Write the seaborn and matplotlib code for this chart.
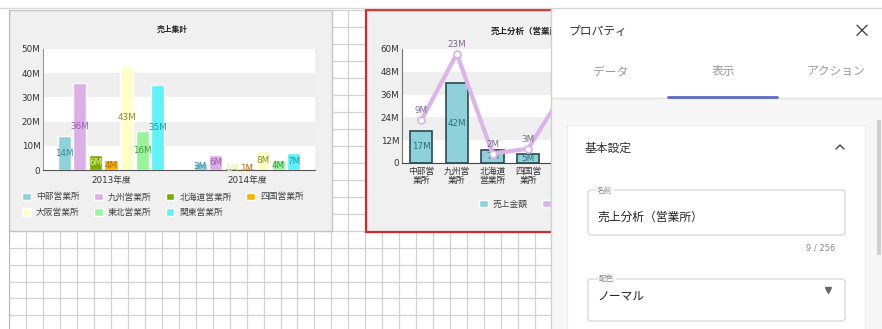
import matplotlib
matplotlib.use("Agg")
import matplotlib.pyplot as plt
import seaborn as sns
import pandas as pd
import numpy as np
from matplotlib.patches import Rectangle, FancyBboxPatch

# left chart: 売上集計
years = ["2013年度", "2014年度"]
offices = ["中部営業所", "九州営業所", "北海道営業所", "四国営業所",
           "大阪営業所", "東北営業所", "関東営業所"]
sales_2013 = [14, 36, 6, 4, 43, 16, 35]
sales_2014 = [3, 6, 1, 1, 8, 4, 7]
office_colors = ["#8ed1da", "#dcb0e6", "#7aae00", "#f8b500",
                 "#ffffc8", "#98f59a", "#5ff2f8"]
label_colors = ["#3f8c96", "#9a5ab0", "#e4f09a", "#b06e00",
                "#8c8c3c", "#3d9a45", "#1f9aa6"]

# middle chart: 売上分析（営業所）
branch_ticks = ["中部営\n業所", "九州営\n業所", "北海道\n営業所", "四国営\n業所", "大阪営\n業所"]
branch_sales = [17, 42, 7, 5, 51]
branch_profit = [9, 23, 2, 3, 15]
sales_color = "#8ed1da"
profit_color = "#dcb4e8"

W, H = 882, 329
FS = 6.3

sns.set_style("white")
plt.rcParams["font.family"] = ["DejaVu Sans", "Noto Sans CJK JP"]


def rect(x, y, w, h):
    # pixel box (top-left origin) -> figure fraction
    return [x / W, 1 - (y + h) / H, w / W, h / H]


def bands(ax, top, step):
    for i, lo in enumerate(np.arange(0, top, step)):
        if i % 2 == 1:
            ax.axhspan(lo, lo + step, color="#efefef", zorder=0, lw=0)


fig = plt.figure(figsize=(W / 100, H / 100), dpi=100)

# ---- background grid + panels ----
bg = fig.add_axes(rect(9, 10, 544, 319))
bg.set_zorder(0)
bg.set_xlim(9, 553)
bg.set_ylim(329, 10)
bg.set_xticks(np.arange(9, 553, 16.97))
bg.set_yticks(np.arange(10, 329, 16.97))
bg.tick_params(length=0, labelbottom=False, labelleft=False)
bg.set_axisbelow(True)
bg.grid(True, color="#d2d2d2", lw=0.9)
for s in ["top", "right", "bottom"]:
    bg.spines[s].set_visible(False)
bg.spines["left"].set_color("#b8b8b8")
bg.add_patch(Rectangle((9, 10), 323, 221, fc="#f0f0f0", ec="#c4c4c4", lw=1, zorder=1))
bg.add_patch(Rectangle((366, 10), 240, 222, fc="#f0f0f0", ec="#d42a2a", lw=1.6,
                       zorder=1, clip_on=False))

# ---- left chart ----
ax1 = fig.add_axes(rect(43, 49, 272, 121))
ax1.set_zorder(2)
df = pd.DataFrame({
    "year": np.repeat(years, len(offices)),
    "office": offices * 2,
    "sales": sales_2013 + sales_2014,
})
sns.barplot(data=df, x="year", y="sales", hue="office", hue_order=offices,
            palette=office_colors, saturation=1, width=0.8, gap=0.16,
            errorbar=None, legend=False, ax=ax1)
bands(ax1, 50, 10)
ax1.set_ylim(0, 50)
ax1.set_yticks(range(0, 51, 10))
ax1.set_yticklabels(["0"] + [f"{v}M" for v in range(10, 51, 10)])
ax1.set_xlabel("")
ax1.set_ylabel("")
ax1.tick_params(labelsize=FS, colors="#333333", length=0, pad=2)
ax1.tick_params(axis="x", pad=4)
for s in ["top", "right"]:
    ax1.spines[s].set_visible(False)
ax1.spines["left"].set_color("#999999")
ax1.spines["bottom"].set_color("#555555")
for c, col in zip(ax1.containers, label_colors):
    ax1.bar_label(c, labels=[f"{v:g}M" for v in c.datavalues], label_type="center",
                  fontsize=FS, color=col)
fig.text(172 / W, 1 - 29 / H, "売上集計", fontsize=5.6, fontweight="bold",
         color="#222222", va="center", ha="center", zorder=3)

handles = [Rectangle((0, 0), 1, 1, fc=c) for c in office_colors]
order = [0, 4, 1, 5, 2, 6, 3]
fig.legend([handles[i] for i in order], [offices[i] for i in order],
           loc="upper left", bbox_to_anchor=(22 / W, 1 - 192.5 / H), ncol=4,
           frameon=False, fontsize=FS, handlelength=1.0, handleheight=1.0,
           handletextpad=0.6, columnspacing=1.6, labelspacing=0.75,
           borderpad=0, borderaxespad=0, labelcolor="#444444")

# ---- middle chart ----
ax2 = fig.add_axes(rect(402, 49, 181, 114))
ax2.set_zorder(2)
sns.barplot(x=branch_ticks, y=branch_sales, color=sales_color, saturation=1,
            width=0.62, edgecolor="#2d4a4f", linewidth=1.2, errorbar=None, ax=ax2)
bands(ax2, 60, 12)
ax2.set_ylim(0, 60)
ax2.set_yticks(range(0, 61, 12))
ax2.set_yticklabels(["0"] + [f"{v}M" for v in range(12, 61, 12)])
ax2.tick_params(labelsize=FS, colors="#333333", length=0, pad=2)
ax2.tick_params(axis="x", pad=3)
for lbl in ax2.get_xticklabels():
    lbl.set_linespacing(1.0)
for s in ["top", "right"]:
    ax2.spines[s].set_visible(False)
ax2.spines["left"].set_color("#777777")
ax2.spines["bottom"].set_color("#444444")
ax2.bar_label(ax2.containers[0], labels=[f"{v}M" for v in branch_sales],
              label_type="center", fontsize=FS, color="#2d6f78")

ax2b = ax2.twinx()
sns.lineplot(x=np.arange(len(branch_profit)), y=branch_profit, ax=ax2b,
             color=profit_color, lw=3, marker="o", markersize=5,
             markerfacecolor="white", markeredgecolor=profit_color, markeredgewidth=1.3)
ax2b.set_ylim(0, 24)
ax2b.set_yticks([])
ax2b.set_ylabel("")
for s in ax2b.spines.values():
    s.set_visible(False)
for i, v in enumerate(branch_profit):
    ax2b.annotate(f"{v}M", (i, v), xytext=(0, 3.5), textcoords="offset points",
                  ha="center", va="bottom", fontsize=FS, color="#806890")

fig.text(491 / W, 1 - 31 / H, "売上分析（営業所）", fontsize=6.1, fontweight="bold",
         color="#222222", va="center", ha="left", zorder=3)

mid_handles = [Rectangle((0, 0), 1, 1, fc=sales_color), Rectangle((0, 0), 1, 1, fc=profit_color)]
fig.legend(mid_handles, ["売上金額", "粗利"], loc="upper left",
           bbox_to_anchor=(479 / W, 1 - 199.5 / H), ncol=2, frameon=False, fontsize=FS,
           handlelength=1.0, handleheight=1.0, handletextpad=0.6, columnspacing=1.6,
           borderpad=0, borderaxespad=0, labelcolor="#444444")

# ---- property panel ----
pn = fig.add_axes([0, 0, 1, 1])
pn.set_zorder(10)
pn.set_xlim(0, W)
pn.set_ylim(H, 0)
pn.axis("off")
pn.patch.set_alpha(0)
pn.plot([0, W], [8, 8], color="#d8d8d8", lw=1)
pn.add_patch(Rectangle((550.5, 8), 332, 321, fc="white", ec="none"))
pn.plot([551, 551], [8, H], color="#d0d0d0", lw=1)
pn.add_patch(Rectangle((551.5, 99), 331, 230, fc="#f7f7f7", ec="none"))
pn.plot([551.5, W], [98, 98], color="#e2e2e2", lw=1)
pn.plot([668, 777], [97, 97], color="#5c6bc0", lw=2)
pn.add_patch(Rectangle((567, 125), 298, 210, fc="white", ec="#ececec", lw=0.8))
pn.add_patch(Rectangle((877, 120), 4, 135, fc="#cfcfcf", ec="none"))

jp = ["Noto Sans CJK JP", "DejaVu Sans"]
pn.text(568, 32, "プロパティ", fontsize=8.5, color="#333333", va="center", family=jp)
pn.text(862, 32, "×", fontsize=13, color="#333333", va="center", ha="center", family=jp)
pn.text(611, 72, "データ", fontsize=8.5, color="#9a9a9a", va="center", ha="center", family=jp)
pn.text(723, 72, "表示", fontsize=8.5, color="#9a9a9a", va="center", ha="center", family=jp)
pn.text(836, 72, "アクション", fontsize=8.5, color="#9a9a9a", va="center", ha="center", family=jp)
pn.text(585, 148, "基本設定", fontsize=8.5, color="#333333", va="center", family=jp)
pn.plot([836, 840, 844], [149, 145, 149], color="#555555", lw=1.1)

pn.add_patch(FancyBboxPatch((588, 190), 257, 45, boxstyle="round,pad=0,rounding_size=3",
                            fc="white", ec="#d6d6d6", lw=0.9))
pn.text(597, 191, "名前", fontsize=5.5, color="#888888", va="center", family=jp,
        bbox=dict(fc="white", ec="none", pad=1))
pn.text(597, 217, "売上分析（営業所）", fontsize=8.5, color="#222222", va="center", family=jp)
pn.text(835, 248, "9 / 256", fontsize=6, color="#8a8a8a", va="center", ha="right")

pn.add_patch(FancyBboxPatch((588, 279), 257, 42, boxstyle="round,pad=0,rounding_size=3",
                            fc="white", ec="#d6d6d6", lw=0.9))
pn.text(599, 279, "配色", fontsize=5.5, color="#888888", va="center", family=jp,
        bbox=dict(fc="white", ec="none", pad=1))
pn.text(597, 297, "ノーマル", fontsize=8.5, color="#222222", va="center", family=jp)
pn.plot([828], [290], marker="v", color="#666666", markersize=4)

fig.savefig("out.png", dpi=100)
